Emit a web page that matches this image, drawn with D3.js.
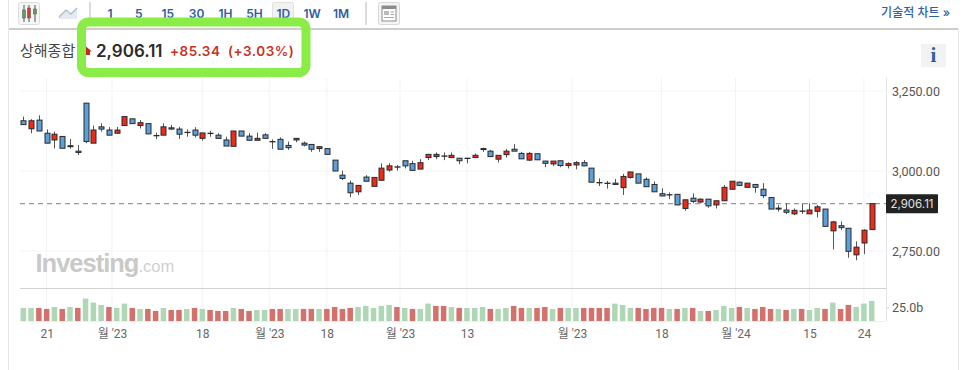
<!DOCTYPE html>
<html lang="ko">
<head>
<meta charset="utf-8">
<script src="https://cdn.jsdelivr.net/npm/d3@7"></script>
<style>
  html, body { margin: 0; padding: 0; background: #fff; }
  svg { display: block; }
  text { font-family: "Inter", "Noto Sans CJK KR", sans-serif; }
</style>
</head>
<body>
<div id="chart"></div>
<script>
// one entry per session
const opens = [3157,3132,3159,3118,3097,3108,3079,3062,3212,3087,
  3138,3128,3118,3142,3163,3142,3148,3111,3112,3135,
  3131,3121,3128,3102,3118,3112,3097,3077,3125,3109,
  3096,3113,3092,3099,3080,3097,3087,3083,3070,3070,
  3034,2987,2962,2935,2981,2952,2971,3003,3013,3032,
  3023,3006,3042,3045,3047,3042,3040,3040,3042,3070,
  3062,3037,3051,3068,3055,3034,3054,3031,3022,3032,
  3017,3019,3026,3009,2964,2962,2962,2948,2980,2991,
  2974,2958,2929,2926,2927,2883,2915,2903,2912,2894,
  2907,2943,2965,2949,2958,2943,2917,2884,2878,2866,
  2875,2866,2874,2881,2813,2829,2821,2738,2775,2817];
const highs = [3170,3162,3174,3130,3123,3108,3100,3081,3212,3142,
  3149,3137,3138,3170,3163,3159,3148,3120,3149,3144,
  3138,3130,3137,3119,3126,3118,3107,3125,3125,3118,
  3120,3118,3099,3105,3092,3102,3092,3083,3076,3070,
  3034,3001,2970,2955,2987,2980,3024,3024,3019,3032,
  3032,3037,3052,3058,3058,3058,3040,3041,3055,3073,
  3066,3049,3069,3084,3060,3059,3054,3031,3031,3032,
  3027,3031,3034,3009,2977,2969,2975,2991,2997,2991,
  2980,2967,2946,2933,2927,2910,2930,2914,2912,2907,
  2956,2968,2967,2962,2958,2962,2917,2894,2899,2883,
  2899,2899,2894,2881,2844,2842,2821,2780,2818,2898];
const lows = [3145,3118,3125,3087,3070,3071,3070,3050,3087,3087,
  3123,3112,3118,3142,3148,3133,3116,3100,3112,3128,
  3100,3107,3105,3095,3107,3102,3078,3077,3109,3096,
  3096,3102,3069,3068,3066,3090,3077,3060,3060,3052,
  3000,2972,2918,2925,2968,2952,2971,2998,3001,3008,
  3002,3006,3034,3037,3034,3042,3021,3024,3042,3060,
  3045,3027,3042,3062,3038,3031,3035,3012,3016,3012,
  3008,3005,3016,2965,2953,2945,2958,2925,2976,2962,
  2951,2935,2922,2912,2894,2876,2899,2899,2885,2883,
  2907,2943,2955,2949,2932,2915,2881,2873,2865,2862,
  2866,2866,2855,2827,2755,2816,2729,2721,2740,2817];
const closes = [3145,3157,3125,3087,3115,3071,3076,3058,3092,3128,
  3131,3112,3128,3170,3148,3151,3116,3110,3138,3131,
  3115,3120,3112,3119,3117,3102,3078,3125,3109,3096,
  3102,3102,3091,3068,3073,3102,3081,3068,3076,3052,
  3000,2977,2932,2955,2968,2980,3009,3016,3012,3016,
  3002,3026,3052,3052,3046,3049,3032,3039,3049,3067,
  3045,3049,3062,3062,3038,3055,3035,3024,3031,3017,
  3023,3026,3016,2965,2963,2961,2958,2983,2997,2962,
  2951,2935,2922,2925,2894,2910,2905,2912,2891,2907,
  2949,2968,2955,2962,2949,2923,2881,2881,2871,2877,
  2874,2878,2888,2827,2841,2823,2749,2762,2815,2898];
// billions
const volumes = [23.8,23.8,23.8,22,25.6,22,25.6,23.8,40.9,33.6,
  29.3,25.6,23.8,31.7,23.8,22,22,18.3,23.8,20.1,
  20.1,22,23.8,22,20.1,18.3,18.3,23.8,22,18.3,
  20.1,20.1,22,22,22,22,22,22,22,22,
  25.6,22,23.8,25.6,27.5,23.8,27.5,29.3,25.6,23.8,
  22,22,31.7,27.5,27.5,25.6,23.8,23.8,23.8,25.6,
  22,22,23.8,27.5,23.8,23.8,23.8,25.6,22,23.8,
  23.8,23.8,23.8,23.8,23.8,23.8,31.7,29.3,23.8,23.8,
  22,23.8,23.8,22,22,23.8,23.8,18.3,18.3,20.1,
  27.5,23.8,25.6,23.8,22,25.6,22,22,20.1,22,
  22,20.1,23.8,22,33.6,22,29.3,25.6,31.7,36.6];
const volumeSides = "ggrrgrgrgg" + "grggrgrrgr" + "rgrgrrrgrr" + "ggrrggrrgr" +
  "rrrgggggrg" + "rggrrgrggg" + "rggrrgrrgr" + "ggrrrrgggr" +
  "rrrgrgrgrg" + "ggrgrrrgrg" + "rggrgrrggg";
const dateTicks = [3, 11.4, 23, 31.6, 39, 48.4, 57, 70.5, 82, 91.5, 101, 108];
const dateLabels = ["21", "월 '23", "18", "월 '23", "18", "월 '23", "13", "월 '23", "18", "월 '24", "15", "24"];
const priceTicks = [2750, 3000, 3250];
const volumeTicks = [25];
const intervals = ["1", "5", "15", "30", "1H", "5H", "1D", "1W", "1M"];
const lastPriceLabel = "2,906.11";
const changeLabel = "+85.34";
const changePctLabel = "(+3.03%)";

const width = 966, height = 370;
const svg = d3.select("#chart").append("svg").attr("width", width).attr("height", height);

const x = d3.scaleLinear().domain([0, closes.length - 1]).range([23.3, 871.7]);
const y = d3.scaleLinear().domain([2750, 3250]).range([251, 91]);
const yVol = d3.scaleLinear().domain([0, 25]).range([321, 307.3]);

const plotLeft = 20, plotRight = 886, plotTop = 78, plotBottom = 321;

// frame
svg.append("line").attr("x1", 8.5).attr("x2", 8.5).attr("y1", 0).attr("y2", height).attr("stroke", "#e6e6e6");
svg.append("line").attr("x1", 958.5).attr("x2", 958.5).attr("y1", 29).attr("y2", height).attr("stroke", "#e6e6e6");
svg.append("line").attr("x1", 9).attr("x2", 958).attr("y1", 29).attr("y2", 29).attr("stroke", "#bdbdbd").attr("stroke-width", 1.4);

// toolbar
const bar = svg.append("g");
bar.append("rect").attr("x", 18.5).attr("y", 2.5).attr("width", 21).attr("height", 22).attr("rx", 2)
  .attr("fill", "#f5f5f5").attr("stroke", "#dcdcdc");
[[24, "#5aa05a", 10, 8], [29, "#d8392e", 8, 10], [35, "#5aa05a", 9, 5]].forEach(function(c) {
  bar.append("line").attr("x1", c[0]).attr("x2", c[0]).attr("y1", 5).attr("y2", 22).attr("stroke", "#555");
  bar.append("rect").attr("x", c[0] - 1.5).attr("y", c[2]).attr("width", 3).attr("height", c[3])
    .attr("fill", c[1]).attr("stroke", "#555").attr("stroke-width", 0.5);
});
bar.append("path").attr("d", "M59 17L66 10L71 14L77 8L77 19L59 19Z").attr("fill", "#e4eaf2");
bar.append("path").attr("d", "M59 17L66 10L71 14L77 8").attr("fill", "none").attr("stroke", "#a5b9d2").attr("stroke-width", 1.2);
bar.append("line").attr("x1", 90).attr("x2", 90).attr("y1", 2).attr("y2", 25).attr("stroke", "#cfcfcf").attr("stroke-width", 1.5);
bar.append("line").attr("x1", 366).attr("x2", 366).attr("y1", 2).attr("y2", 25).attr("stroke", "#cfcfcf").attr("stroke-width", 1.5);
bar.append("rect").attr("x", 272.5).attr("y", 2.5).attr("width", 21).attr("height", 22).attr("rx", 2)
  .attr("fill", "#f2f2f2").attr("stroke", "#e0e0e0");
const intervalX = d3.scalePoint().domain(intervals).range([110, 341]);
bar.selectAll(".interval").data(intervals).enter().append("text")
  .attr("class", "interval")
  .attr("x", function(d) { return intervalX(d); })
  .attr("y", 17.5)
  .attr("text-anchor", "middle")
  .attr("font-size", 12)
  .attr("font-weight", 600)
  .attr("fill", "#2f5ea3")
  .text(function(d) { return d; });
bar.append("rect").attr("x", 378.5).attr("y", 2.5).attr("width", 21).attr("height", 22).attr("rx", 2)
  .attr("fill", "#f5f5f5").attr("stroke", "#d8d8d8");
bar.append("rect").attr("x", 382).attr("y", 6).attr("width", 14).attr("height", 15).attr("fill", "#fff").attr("stroke", "#8c8c8c");
bar.append("rect").attr("x", 382).attr("y", 6).attr("width", 14).attr("height", 3).attr("fill", "#8c8c8c");
bar.append("rect").attr("x", 384).attr("y", 11).attr("width", 5).attr("height", 4).attr("fill", "#bbb");
bar.append("path").attr("d", "M390.5 12H394M390.5 14.5H394M384 17.5H394").attr("stroke", "#aaa");
bar.append("text").attr("x", 950).attr("y", 17).attr("text-anchor", "end")
  .attr("font-size", 12).attr("font-weight", 500).attr("fill", "#2f5ea3").text("기술적 차트 »");

// info button
svg.append("rect").attr("x", 921).attr("y", 44).attr("width", 25).attr("height", 23).attr("fill", "#f2f2f2");
svg.append("text").attr("x", 933.5).attr("y", 61.5).attr("text-anchor", "middle")
  .attr("font-size", 21).attr("font-weight", 700).style("font-family", "Liberation Serif, serif")
  .attr("fill", "#2f5ea3").text("i");

// grid
svg.append("g").selectAll("line").data(dateTicks).enter().append("line")
  .attr("x1", function(d) { return x(d); }).attr("x2", function(d) { return x(d); })
  .attr("y1", plotTop).attr("y2", plotBottom).attr("stroke", "#f3f3f5");
svg.append("g").selectAll("line").data(priceTicks).enter().append("line")
  .attr("x1", plotLeft).attr("x2", plotRight)
  .attr("y1", function(d) { return y(d); }).attr("y2", function(d) { return y(d); })
  .attr("stroke", "#f5f5f5");

// watermark
const mark = svg.append("text").attr("x", 35.5).attr("y", 272);
mark.append("tspan").attr("font-size", 25.5).attr("font-weight", 700).style("font-family", "Liberation Sans, sans-serif")
  .attr("letter-spacing", -1).attr("fill", "#c9c9c9").text("Investing");
mark.append("tspan").attr("font-size", 16.5).style("font-family", "Liberation Sans, sans-serif")
  .attr("fill", "#cfcfcf").text(".com");

// price axis
const priceAxis = d3.axisRight(y).tickValues(priceTicks).tickSize(0).tickPadding(6).tickFormat(d3.format(",.2f"));
const priceG = svg.append("g").attr("transform", "translate(" + plotRight + ",0)").call(priceAxis);
priceG.select(".domain").remove();
priceG.selectAll("text").attr("font-size", 12.5).attr("fill", "#555").style("font-family", "Roboto, sans-serif");
svg.append("line").attr("x1", plotRight + 0.5).attr("x2", plotRight + 0.5).attr("y1", plotTop).attr("y2", plotBottom).attr("stroke", "#e2e2ea");

// volume panel
svg.append("line").attr("x1", plotLeft).attr("x2", plotRight).attr("y1", 288.5).attr("y2", 288.5).attr("stroke", "#d2d2d2");
svg.append("line").attr("x1", plotLeft).attr("x2", plotRight).attr("y1", 321.5).attr("y2", 321.5).attr("stroke", "#eeeef4");
svg.append("g").selectAll("rect").data(volumes).enter().append("rect")
  .attr("x", function(d, i) { return x(i) - 2.75; })
  .attr("y", function(d) { return yVol(d); })
  .attr("width", 5.5)
  .attr("height", function(d) { return yVol(0) - yVol(d); })
  .attr("fill", function(d, i) { return volumeSides[i] === "r" ? "#d4716c" : "#afd7b6"; });
const volAxis = d3.axisRight(yVol).tickValues(volumeTicks).tickSize(3).tickPadding(3)
  .tickFormat(function(d) { return d3.format(".1f")(d) + "b"; });
const volG = svg.append("g").attr("transform", "translate(" + plotRight + ",0)").call(volAxis);
volG.select(".domain").remove();
volG.selectAll("line").attr("stroke", "#ddd");
volG.selectAll("text").attr("font-size", 12.5).attr("fill", "#555").style("font-family", "Roboto, sans-serif");

// date axis
const dateAxis = d3.axisBottom(x).tickValues(dateTicks).tickSize(0).tickPadding(8)
  .tickFormat(function(d, i) { return dateLabels[i]; });
const dateG = svg.append("g").attr("transform", "translate(0," + plotBottom + ")").call(dateAxis);
dateG.select(".domain").remove();
dateG.selectAll("text").attr("font-size", 12).attr("fill", "#666").style("font-family", "Roboto, 'Noto Sans CJK KR', sans-serif");

// last price line
svg.append("line").attr("x1", plotLeft).attr("x2", plotRight)
  .attr("y1", y(closes[closes.length - 1])).attr("y2", y(closes[closes.length - 1]))
  .attr("stroke", "#999").attr("stroke-width", 1.4).attr("stroke-dasharray", "5,4");
svg.append("rect").attr("x", plotRight).attr("y", y(closes[closes.length - 1]) - 9.5)
  .attr("width", 52).attr("height", 19).attr("rx", 1).attr("fill", "#222");
svg.append("text").attr("x", plotRight + 26).attr("y", y(closes[closes.length - 1]) + 4.2)
  .attr("text-anchor", "middle").attr("font-size", 11.5).attr("fill", "#e0e0e0").text(lastPriceLabel);

// candles
const candles = svg.append("g").selectAll("g").data(closes).enter().append("g");
candles.append("line")
  .attr("x1", function(d, i) { return Math.round(x(i)) + 0.5; })
  .attr("x2", function(d, i) { return Math.round(x(i)) + 0.5; })
  .attr("y1", function(d, i) { return y(highs[i]); })
  .attr("y2", function(d, i) { return y(lows[i]); })
  .attr("stroke", "#555");
candles.append("rect")
  .attr("x", function(d, i) { return Math.round(x(i)) - 2; })
  .attr("y", function(d, i) { return y(Math.max(opens[i], closes[i])); })
  .attr("width", 5)
  .attr("height", function(d, i) { return Math.abs(y(opens[i]) - y(closes[i])); })
  .attr("fill", function(d, i) { return closes[i] >= opens[i] ? "#ee2a1b" : "#5b9fdc"; })
  .attr("stroke", "#2a2a2a")
  .attr("stroke-width", 1);

// header
svg.append("text").attr("x", 20).attr("y", 55.5).attr("font-size", 15).attr("fill", "#444").text("상해종합");
svg.append("rect").attr("x", 81.5).attr("y", 22).attr("width", 224.5).attr("height", 50.5).attr("rx", 7)
  .attr("fill", "none").attr("stroke", "#8aec46").attr("stroke-width", 9);
svg.append("path").attr("d", "M86 46.5L92 51.5L90 51.5L90 55L86 55Z").attr("fill", "#c8281e");
svg.append("text").attr("x", 96).attr("y", 56.5).attr("font-size", 17).attr("font-weight", 600).attr("fill", "#2b2b2b").text(lastPriceLabel);
svg.append("text").attr("x", 170).attr("y", 55.5).attr("font-size", 13.5).attr("font-weight", 600).attr("letter-spacing", 0.5).attr("fill", "#c8321f").text(changeLabel);
svg.append("text").attr("x", 228).attr("y", 55.5).attr("font-size", 13.5).attr("font-weight", 600).attr("letter-spacing", 0.5).attr("fill", "#c8321f").text(changePctLabel);
</script>
</body>
</html>
